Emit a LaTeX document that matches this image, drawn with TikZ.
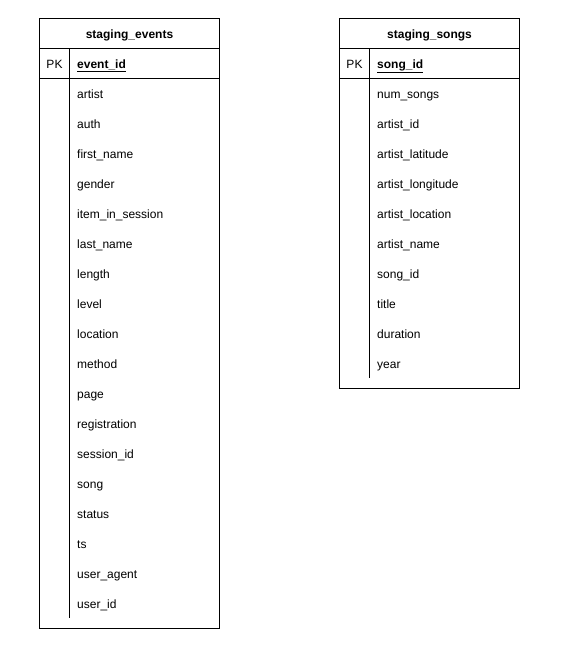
\documentclass[tikz,border=0pt]{standalone}
\usepackage{fontspec}
\setmainfont{Liberation Sans}
\begin{document}
\begin{tikzpicture}[x=1pt,y=-1pt,
  frame/.style={draw=black,line width=1pt},
  title/.style={font=\fontsize{12}{14}\selectfont\bfseries,inner sep=0pt,anchor=base},
  pk/.style={font=\fontsize{12}{14}\selectfont,inner sep=0pt,anchor=base},
  field/.style={font=\fontsize{12}{14}\selectfont,anchor=base west,inner sep=0pt}]
\useasboundingbox[fill=white] (0,0) rectangle (562,657);
% left table
\draw[frame] (39.5,18.5) rectangle (219.5,628.5);
\draw[frame] (39.5,48.5) -- (219.5,48.5);
\draw[frame] (39.5,78.5) -- (219.5,78.5);
\draw[frame] (69.5,48.5) -- (69.5,618);
\node[title] (t1) at (129.5,38) {staging\_events};
\node[pk] (pk1) at (54.5,68) {PK};
\node[field] (k1) at (77,68) {\underline{\textbf{event\_id}}};
\foreach \f [count=\i from 0] in {artist,auth,first\_name,gender,item\_in\_session,last\_name,length,level,location,method,page,registration,session\_id,song,status,ts,user\_agent,user\_id}
  \node[field] (a\i) at (77,98+30*\i) {\f};
% right table
\draw[frame] (339.5,18.5) rectangle (519.5,388.5);
\draw[frame] (339.5,48.5) -- (519.5,48.5);
\draw[frame] (339.5,78.5) -- (519.5,78.5);
\draw[frame] (369.5,48.5) -- (369.5,378);
\node[title] (t2) at (429.5,38) {staging\_songs};
\node[pk] (pk2) at (354.5,68) {PK};
\node[field] (k2) at (377,68) {\underline{\textbf{song\_id}}};
\foreach \f [count=\i from 0] in {num\_songs,artist\_id,artist\_latitude,artist\_longitude,artist\_location,artist\_name,song\_id,title,duration,year}
  \node[field] (b\i) at (377,98+30*\i) {\f};
\end{tikzpicture}
\end{document}
